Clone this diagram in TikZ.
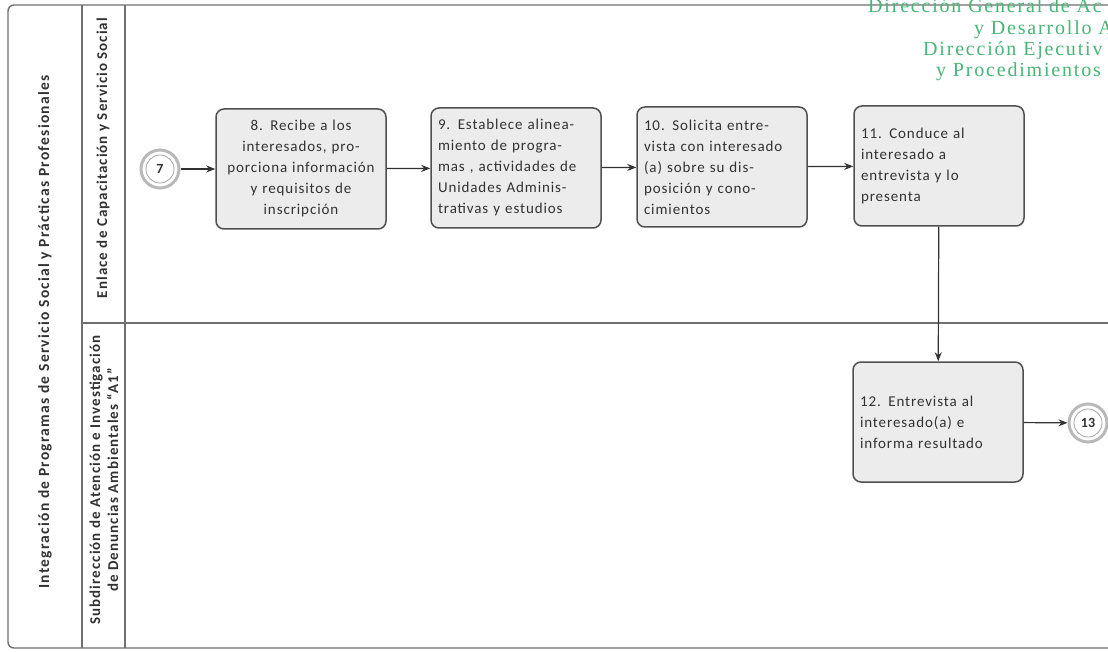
\documentclass[tikz,border=0pt]{standalone}
\usepackage{fontspec}
\setmainfont{Carlito}
\newfontfamily\bodyfont[LetterSpace=6]{Carlito}
\newfontfamily\labelfont[LetterSpace=7]{Carlito}
\newfontfamily\poolfont[LetterSpace=8]{Carlito}
\newfontfamily\headfont[LetterSpace=9]{Liberation Serif}
\usetikzlibrary{arrows.meta}
\definecolor{frameline}{RGB}{112,112,112}
\definecolor{boxfill}{RGB}{236,236,236}
\definecolor{boxline}{RGB}{80,80,80}
\definecolor{textgray}{RGB}{50,50,50}
\definecolor{headgreen}{RGB}{72,182,118}
\tikzset{
  frame/.style={draw=frameline, line width=1.4pt},
  task/.style={draw=boxline, fill=boxfill, line width=1.5pt, rounded corners=8pt,
    minimum width=170pt, minimum height=120pt, inner sep=6pt,
    font=\bodyfont\fontsize{15}{21}\selectfont, text=textgray},
  taskc/.style={task, align=center, text width=158pt},
  taskl/.style={task, align=left, text width=156pt},
  link/.style={draw=textgray, line width=1.2pt, -{Stealth[length=9pt,width=7pt]}},
  offpage/.style={circle, draw=gray!55, line width=3pt, minimum size=38pt, inner sep=0pt,
    font=\fontsize{14}{14}\selectfont\bfseries, text=textgray,
    append after command={\pgfextra{\draw[gray!70, line width=0.8pt]
      (\tikzlastnode.center) circle[radius=14pt];}}},
  lanelabel/.style={rotate=90, font=\labelfont\fontsize{15}{18}\selectfont\bfseries, text=textgray, align=center},
  poollabel/.style={rotate=90, font=\poolfont\fontsize{15.5}{18}\selectfont\bfseries, text=textgray},
  heading/.style={anchor=base west, font=\headfont\fontsize{20}{21}\selectfont, text=headgreen, inner sep=0pt}
}
\begin{document}
\begin{tikzpicture}[x=1pt, y=-1pt]
\useasboundingbox (0,0) rectangle (1108,652);
\clip (0,0) rectangle (1108,652);
\fill[white] (0,0) rectangle (1108,652);

% pool frame, lane dividers
\draw[frame, rounded corners=6pt] (1120,5) -- (8,5) -- (8,648) -- (1120,648);
\draw[frame] (82,5) -- (82,648);
\draw[frame] (125,5) -- (125,648);
\draw[frame] (82,323) -- (1120,323);

% pool and lane titles
\node[poollabel] (pool) at (45,332) {Integración de Programas de Servicio Social y Prácticas Profesionales};
\node[lanelabel] (lane1) at (103,158) {Enlace de Capacitación y Servicio Social};
\node[lanelabel] (lane2) at (104,480) {Subdirección de Atención e Investigación\\de Denuncias Ambientales “A1”};

% heading in the corner
\node[heading] (h1) at (868,13) {Dirección General de Ac};
\node[heading] (h2) at (974,35) {y Desarrollo A};
\node[heading] (h3) at (923,56) {Dirección Ejecutiv};
\node[heading] (h4) at (936,77) {y Procedimientos};

% flow elements
\node[offpage] (p7) at (160,169) {7};
\node[taskc] (b8) at (301,169) {8. Recibe a los\\interesados, pro-\\porciona información\\y requisitos de\\inscripción};
\node[taskl] (b9) at (516,168) {9. Establece alinea-\\miento de progra-\\mas , actividades de\\Unidades Adminis-\\trativas y estudios};
\node[taskl] (b10) at (722,167) {10. Solicita entre-\\vista con interesado\\(a) sobre su dis-\\posición y cono-\\cimientos};
\node[taskl] (b11) at (939,166) {11. Conduce al\\interesado a\\entrevista y lo\\presenta};
\node[taskl] (b12) at (938,422) {12. Entrevista al\\interesado(a) e\\informa resultado};
\node[offpage] (c13) at (1088,423) {13};

% sequence flows
\draw[link] (p7) -- (b8);
\draw[link] (b8) -- (b9);
\draw[link] (b9) -- (b10);
\draw[link] (b10) -- (b11);
\draw[link] (b11) -- (b12);
\draw[link] (b12) -- (c13);
\end{tikzpicture}
\end{document}
